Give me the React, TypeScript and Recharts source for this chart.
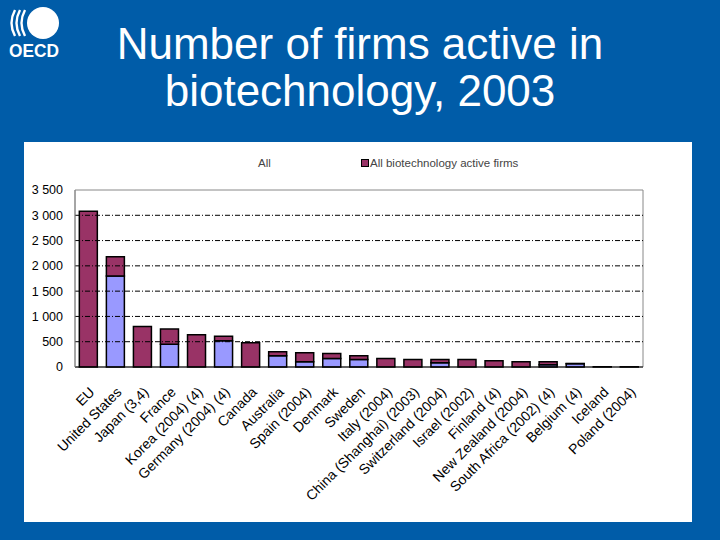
import { Bar, BarChart, ReferenceArea, ReferenceLine, XAxis, YAxis } from 'recharts';

const countries = [
  'EU',
  'United States',
  'Japan (3,4)',
  'France',
  'Korea (2004) (4)',
  'Germany (2004) (4)',
  'Canada',
  'Australia',
  'Spain (2004)',
  'Denmark',
  'Sweden',
  'Italy (2004)',
  'China (Shanghai) (2003)',
  'Switzerland (2004)',
  'Israel (2002)',
  'Finland (4)',
  'New Zealand (2004)',
  'South Africa (2002) (4)',
  'Belgium (4)',
  'Iceland',
  'Poland (2004)'
];

// all biotechnology active firms (total bar height)
const allActiveFirms = [3080, 2180, 800, 750, 640, 610, 480, 300, 280, 265, 222, 170, 150, 150, 150, 125, 105, 105, 70, 5, 4];
// lower, light part of the bar
const dedicatedFirms = [0, 1800, 0, 450, 0, 520, 0, 222, 105, 170, 150, 0, 0, 85, 0, 0, 0, 45, 65, 0, 0];

const yTicks = [0, 500, 1000, 1500, 2000, 2500, 3000, 3500];
const gridValues = [500, 1000, 1500, 2000, 2500, 3000];

const rows = countries.map((name, i) => ({
  name,
  dedicated: dedicatedFirms[i],
  other: allActiveFirms[i] - dedicatedFirms[i]
}));

const font = '"Liberation Sans", Arial, sans-serif';

const formatThousands = (v: number) => (v >= 1000 ? `${Math.floor(v / 1000)} ${String(v % 1000).padStart(3, '0')}` : String(v));

function AngledTick({ x, y, payload }: any) {
  return (
    <g transform={`translate(${x + 7},${y + 18}) rotate(-45)`}>
      <text x={0} y={0} textAnchor="end" fill="#000" fontSize={14} fontFamily={font}>
        {payload.value}
      </text>
    </g>
  );
}

function ChartLegend() {
  return (
    <div style={{ position: 'absolute', left: 0, top: 15, width: 668, height: 20, fontFamily: font, fontSize: 11.5, color: '#444' }}>
      <span style={{ position: 'absolute', left: 234, top: 0 }}>All</span>
      <span style={{ position: 'absolute', left: 337, top: 0, display: 'flex', alignItems: 'center' }}>
        <span style={{ width: 6, height: 6, background: '#993366', border: '1px solid #000', marginRight: 1 }} />
        All biotechnology active firms
      </span>
    </div>
  );
}

function OecdLogo() {
  return (
    <svg width={70} height={64} style={{ position: 'absolute', left: 0, top: 0 }}>
      <circle cx={43} cy={23} r={16} fill="#fff" />
      {[11, 16, 21].map((x) => (
        <path key={x} d={`M ${x + 4} 10 Q ${x - 3} 23 ${x + 4} 36`} stroke="#fff" strokeWidth={2.4} fill="none" />
      ))}
      <text x={9} y={57} fill="#fff" fontSize={18} fontWeight="bold" fontFamily={font} textLength={50} lengthAdjust="spacingAndGlyphs">
        OECD
      </text>
    </svg>
  );
}

export default function App() {
  return (
    <div style={{ position: 'absolute', left: 0, top: 0, width: 720, height: 540, background: '#005CA8', overflow: 'hidden' }}>
      <OecdLogo />
      <div
        style={{
          position: 'absolute',
          left: 0,
          top: 20,
          width: 720,
          textAlign: 'center',
          color: '#fff',
          fontFamily: font,
          fontSize: 44,
          lineHeight: '47px'
        }}
      >
        Number of firms active in
        <br />
        biotechnology, 2003
      </div>
      <div style={{ position: 'absolute', left: 24, top: 142, width: 668, height: 380, background: '#fff' }}>
        <ChartLegend />
        <BarChart width={668} height={380} data={rows} margin={{ top: 48, right: 49, bottom: 0, left: 0 }} barCategoryGap="16%">
          <ReferenceArea y1={0} y2={3500} fill="none" stroke="#888" strokeWidth={1} />
          {gridValues.map((v) => (
            <ReferenceLine key={v} y={v} stroke="#000" strokeDasharray="5 2 1 2" />
          ))}
          <XAxis dataKey="name" interval={0} tickLine={false} axisLine={{ stroke: '#000' }} height={155} tick={<AngledTick />} />
          <YAxis
            width={51}
            domain={[0, 3500]}
            ticks={yTicks}
            tickFormatter={formatThousands}
            tickLine={false}
            tickSize={0}
            tickMargin={12}
            axisLine={{ stroke: '#888' }}
            tick={{ fill: '#000', fontSize: 12.5, fontFamily: font }}
          />
          <Bar dataKey="dedicated" name="All" stackId="a" fill="#9999FF" stroke="#000" strokeWidth={1.5} isAnimationActive={false} />
          <Bar dataKey="other" name="All biotechnology active firms" stackId="a" fill="#993366" stroke="#000" strokeWidth={1.5} isAnimationActive={false} />
        </BarChart>
      </div>
    </div>
  );
}
